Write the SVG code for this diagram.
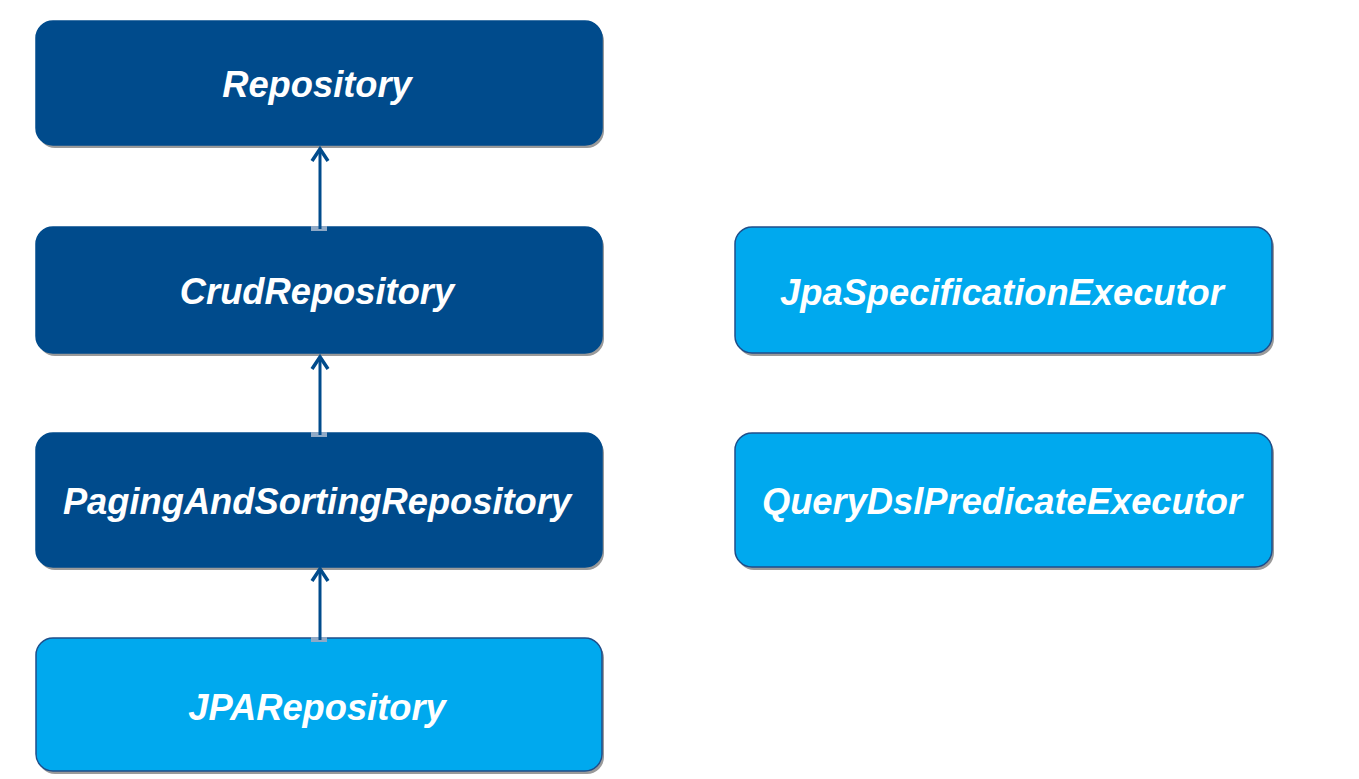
<svg xmlns="http://www.w3.org/2000/svg" width="1359" height="779" viewBox="0 0 1359 779">
  <style>
    .shadow { fill: #9a9a9a; }
    .dark { fill: #004B8C; stroke: #004B8C; stroke-width: 1.5; }
    .light { fill: #00A9EE; stroke: #1F4E8A; stroke-width: 1.5; }
    .label { font-family: "Liberation Sans", Arial, sans-serif; font-size: 36.3px; font-weight: bold; font-style: italic; fill: #FFFFFF; text-anchor: middle; }
    .conn { stroke: #004B8C; stroke-width: 3; fill: none; }
    .head { stroke: #004B8C; stroke-width: 3.5; fill: none; stroke-linejoin: miter; }
    .stub { fill: #8FA9C6; }
  </style>
  <rect width="1359" height="779" fill="#FFFFFF"/>
  <g id="node-repository">
    <rect class="shadow" x="38" y="24" width="566" height="124" rx="17"/>
    <rect class="dark" x="36" y="21" width="566" height="124" rx="17"/>
    <text class="label" x="317" y="97">Repository</text>
  </g>
  <g id="node-crud">
    <rect class="shadow" x="38" y="230" width="566" height="126" rx="17"/>
    <rect class="dark" x="36" y="227" width="566" height="126" rx="17"/>
    <text class="label" x="317" y="304">CrudRepository</text>
  </g>
  <g id="node-paging">
    <rect class="shadow" x="38" y="436" width="566" height="134" rx="17"/>
    <rect class="dark" x="36" y="433" width="566" height="134" rx="17"/>
    <text class="label" x="317" y="514">PagingAndSortingRepository</text>
  </g>
  <g id="node-jpa">
    <rect class="shadow" x="38" y="641" width="566" height="133" rx="17"/>
    <rect class="light" x="36" y="638" width="566" height="133" rx="17"/>
    <text class="label" x="317" y="720">JPARepository</text>
  </g>
  <g id="node-jpaspec">
    <rect class="shadow" x="737" y="230" width="537" height="126" rx="17"/>
    <rect class="light" x="735" y="227" width="537" height="126" rx="17"/>
    <text class="label" x="1002" y="305">JpaSpecificationExecutor</text>
  </g>
  <g id="node-querydsl">
    <rect class="shadow" x="737" y="436" width="537" height="134" rx="17"/>
    <rect class="light" x="735" y="433" width="537" height="134" rx="17"/>
    <text class="label" x="1002" y="514">QueryDslPredicateExecutor</text>
  </g>
  <g id="connectors">
    <rect class="stub" x="311" y="226" width="16" height="5"/>
    <line class="conn" x1="320" y1="229" x2="320" y2="151"/>
    <polyline class="head" points="312,161 320,149 328,161"/>
    <rect class="stub" x="311" y="432" width="16" height="5"/>
    <line class="conn" x1="320" y1="435" x2="320" y2="359"/>
    <polyline class="head" points="312,369 320,357 328,369"/>
    <rect class="stub" x="311" y="637" width="16" height="5"/>
    <line class="conn" x1="320" y1="640" x2="320" y2="571"/>
    <polyline class="head" points="312,581 320,569 328,581"/>
  </g>
</svg>
